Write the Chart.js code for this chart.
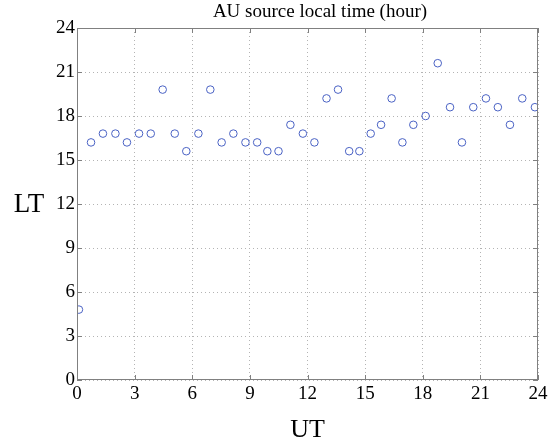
<!DOCTYPE html>
<html>
<head>
<meta charset="utf-8">
<script src="https://cdn.jsdelivr.net/npm/chart.js@4"></script>
<style>
  html, body { margin: 0; padding: 0; background: #fff; }
  #wrap { width: 558px; height: 446px; }
</style>
</head>
<body>
<div id="wrap"><canvas id="chart" width="558" height="446"></canvas></div>
<script>
// data
const ut = [0.1, 0.73, 1.35, 2.0, 2.6, 3.23, 3.84, 4.46, 5.09, 5.69,
  6.32, 6.94, 7.53, 8.14, 8.77, 9.38, 9.91, 10.49, 11.11, 11.76,
  12.36, 12.99, 13.59, 14.17, 14.70, 15.29, 15.83, 16.38, 16.94, 17.51,
  18.15, 18.78, 19.42, 20.04, 20.63, 21.29, 21.91, 22.54, 23.18, 23.84];
const lt = [4.8, 16.2, 16.8, 16.8, 16.2, 16.8, 16.8, 19.8, 16.8, 15.6,
  16.8, 19.8, 16.2, 16.8, 16.2, 16.2, 15.6, 15.6, 17.4, 16.8,
  16.2, 19.2, 19.8, 15.6, 15.6, 16.8, 17.4, 19.2, 16.2, 17.4,
  18.0, 21.6, 18.6, 16.2, 18.6, 19.2, 18.6, 17.4, 19.2, 18.6];
const xTicks = [0, 3, 6, 9, 12, 15, 18, 21, 24];
const yTicks = [0, 3, 6, 9, 12, 15, 18, 21, 24];

const titleText = 'AU source local time (hour)';
const xLabel = 'UT';
const yLabel = 'LT';

const serif = '"Liberation Serif", "DejaVu Serif", serif';
const boxColor = '#808080';

// matlab-like box with inward ticks on every side, plus the labels
const boxPlugin = {
  id: 'boxPlugin',
  afterDraw(chart) {
    const { ctx, chartArea: a, scales } = chart;
    ctx.save();
    ctx.strokeStyle = boxColor;
    ctx.lineWidth = 1;
    ctx.strokeRect(a.left + 0.5, a.top + 0.5, a.right - a.left - 1, a.bottom - a.top - 1);
    const len = 5;
    ctx.beginPath();
    xTicks.forEach(v => {
      const x = Math.round(scales.x.getPixelForValue(v)) + 0.5;
      ctx.moveTo(x, a.bottom); ctx.lineTo(x, a.bottom - len);
      ctx.moveTo(x, a.top); ctx.lineTo(x, a.top + len);
    });
    yTicks.forEach(v => {
      const y = Math.round(scales.y.getPixelForValue(v)) + 0.5;
      ctx.moveTo(a.left, y); ctx.lineTo(a.left + len, y);
      ctx.moveTo(a.right, y); ctx.lineTo(a.right - len, y);
    });
    ctx.stroke();

    ctx.fillStyle = '#000';
    ctx.textAlign = 'center';
    ctx.textBaseline = 'middle';
    ctx.font = '19px ' + serif;
    ctx.fillText(titleText, 320, 12);
    ctx.font = '26px ' + serif;
    ctx.fillText(xLabel, (a.left + a.right) / 2, 430);
    ctx.font = '27px ' + serif;
    ctx.fillText(yLabel, 29, (a.top + a.bottom) / 2 + 1);
    ctx.restore();
  }
};

new Chart(document.getElementById('chart'), {
  type: 'scatter',
  data: {
    datasets: [{
      data: ut.map((x, i) => ({ x, y: lt[i] })),
      pointStyle: 'circle',
      pointRadius: 3.8,
      pointHoverRadius: 3.8,
      borderColor: '#4a62c4',
      backgroundColor: 'rgba(0,0,0,0)',
      borderWidth: 1
    }]
  },
  options: {
    responsive: false,
    devicePixelRatio: 1,
    animation: false,
    layout: { padding: { left: 0, right: 20, top: 28, bottom: 0 } },
    plugins: { legend: { display: false }, tooltip: { enabled: false }, title: { display: false } },
    scales: {
      x: {
        type: 'linear', min: 0, max: 24,
        afterBuildTicks: s => { s.ticks = xTicks.map(v => ({ value: v })); },
        afterFit: s => { s.height = 66; },
        ticks: { color: '#000', font: { family: serif, size: 19 }, padding: 3, maxRotation: 0 },
        grid: { color: '#b4b4b4', lineWidth: 1, drawTicks: false, borderDash: [1, 3] },
        border: { display: false, dash: [1, 3] }
      },
      y: {
        type: 'linear', min: 0, max: 24,
        afterBuildTicks: s => { s.ticks = yTicks.map(v => ({ value: v })); },
        afterFit: s => { s.width = 77; },
        ticks: { color: '#000', font: { family: serif, size: 19 }, padding: 2 },
        grid: { color: '#b4b4b4', lineWidth: 1, drawTicks: false },
        border: { display: false, dash: [1, 3] }
      }
    }
  },
  plugins: [boxPlugin]
});
</script>
</body>
</html>
